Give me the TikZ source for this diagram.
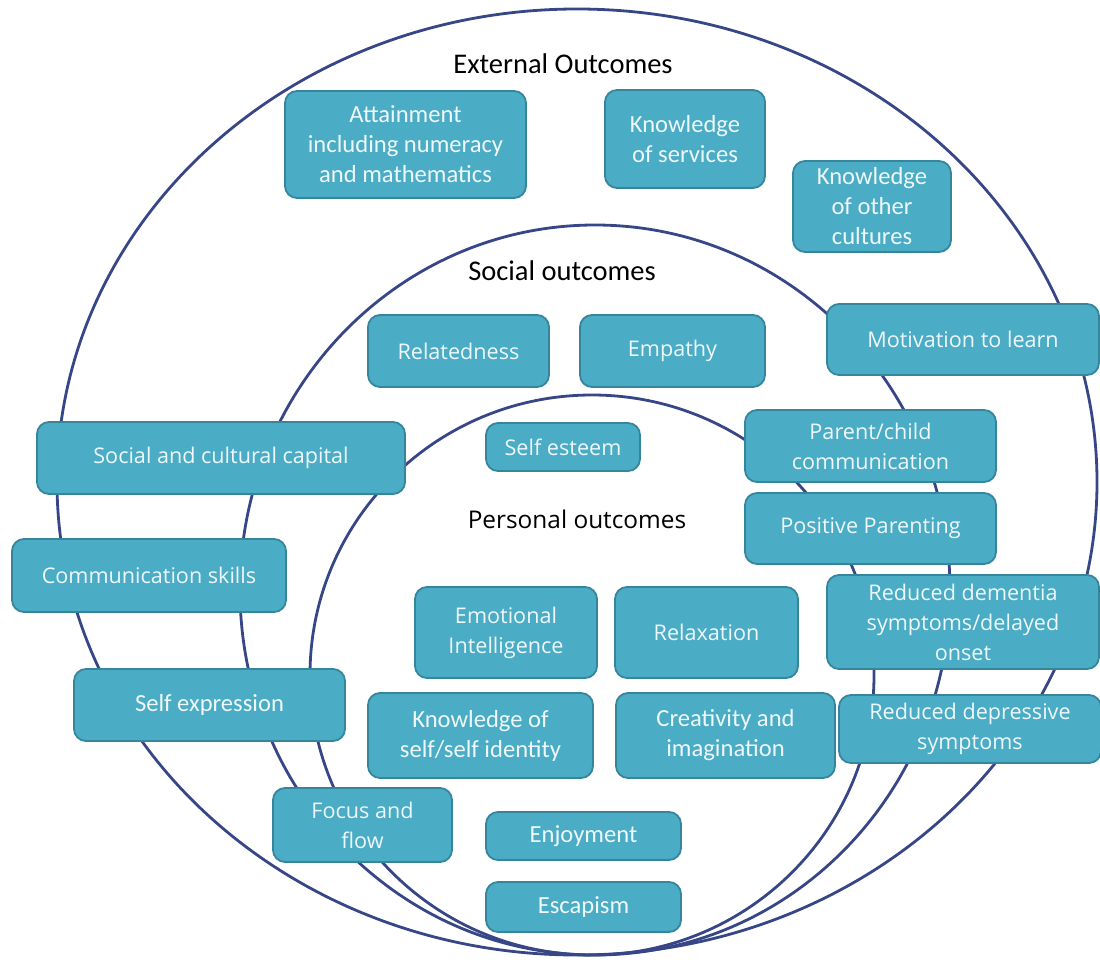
\documentclass[tikz,border=0pt]{standalone}
\usepackage{fontspec}
\setmainfont{Open Sans}
\newfontfamily\narrowfont{Carlito}

\definecolor{boxfill}{HTML}{4BACC6}
\definecolor{boxedge}{HTML}{35859D}
\definecolor{boxtext}{HTML}{EEF8FB}
\definecolor{ringline}{HTML}{374687}

\begin{document}
\begin{tikzpicture}[x=1pt, y=-1pt,
    outcome/.style={draw=boxedge, line width=1.8pt, fill=boxfill, rounded corners=12pt,
        text=boxtext, align=center, inner sep=0pt, font=\fontsize{21.6}{30}\selectfont},
    narrowbox/.style={outcome, font=\narrowfont\fontsize{24.6}{30}\selectfont},
    ring/.style={draw=ringline, line width=2.8pt},
    ringtitle/.style={font=\narrowfont\fontsize{28.5}{34}\selectfont}]

        \useasboundingbox (0,0) rectangle (1100,960);

        % the three rings, all meeting at the bottom
        \draw[ring] (577,482) ellipse [x radius=520, y radius=473];
        \draw[ring] (595,590) ellipse [x radius=355, y radius=365];
        \draw[ring] (592,675) ellipse [x radius=282, y radius=280];

        \node (external) [ringtitle] at (563,64) {External Outcomes};
        \node (social) [ringtitle] at (562,271) {Social outcomes};
        \node (personal) [font=\fontsize{24.4}{30}\selectfont] at (577,519) {Personal outcomes};

        % external ring
        \node (attain) [narrowbox, minimum width=241pt, minimum height=107pt] at (405.5,144.5) {Attainment\\including numeracy\\and mathematics};
        \node (services) [narrowbox, minimum width=160pt, minimum height=98pt] at (685,139) {Knowledge\\of services};
        \node (cultures) [narrowbox, minimum width=158pt, minimum height=91pt] at (872,206.5) {Knowledge\\of other\\cultures};
        \node (motivation) [outcome, minimum width=272pt, minimum height=71pt] at (963,339.5) {Motivation to learn};
        \node (capital) [outcome, minimum width=368pt, minimum height=72pt] at (221,458) {Social and cultural capital};
        \node (commskills) [outcome, minimum width=274pt, minimum height=73pt] at (149,575.5) {Communication skills};
        \node (dementia) [outcome, minimum width=272pt, minimum height=94pt] at (963,622) {Reduced dementia\\symptoms/delayed\\onset};
        \node (depressive) [outcome, minimum width=262pt, minimum height=68pt] at (970,729) {Reduced depressive\\symptoms};
        \node (selfexpr) [narrowbox, minimum width=271pt, minimum height=72pt] at (209.5,705) {Self expression};

        % social ring
        \node (related) [outcome, minimum width=181pt, minimum height=72pt] at (458.5,351) {Relatedness};
        \node (empathy) [outcome, minimum width=185pt, minimum height=72pt] at (672.5,351) {Empathy};
        \node (parentchild) [outcome, minimum width=251pt, minimum height=72pt] at (870.5,446) {Parent/child\\communication};
        \node (parenting) [outcome, minimum width=251pt, minimum height=71pt] at (870.5,528.5) {Positive Parenting};
        \node (focus) [outcome, minimum width=179pt, minimum height=74pt] at (362.5,825) {Focus and\\flow};

        % personal ring
        \node (selfesteem) [outcome, minimum width=154pt, minimum height=48pt] at (563,447) {Self esteem};
        \node (emotional) [outcome, minimum width=182pt, minimum height=91pt] at (506,632.5) {Emotional\\Intelligence};
        \node (relax) [outcome, minimum width=183pt, minimum height=91pt] at (706.5,632.5) {Relaxation};
        \node (selfident) [narrowbox, minimum width=225pt, minimum height=85pt] at (480.5,735.5) {Knowledge of\\self/self identity};
        \node (creative) [narrowbox, minimum width=219pt, minimum height=85pt] at (725.5,735.5) {Creativity and\\imagination};
        \node (enjoy) [narrowbox, minimum width=195pt, minimum height=48pt] at (583.5,836) {Enjoyment};
        \node (escape) [narrowbox, minimum width=195pt, minimum height=50pt] at (583.5,907) {Escapism};

\end{tikzpicture}
\end{document}
